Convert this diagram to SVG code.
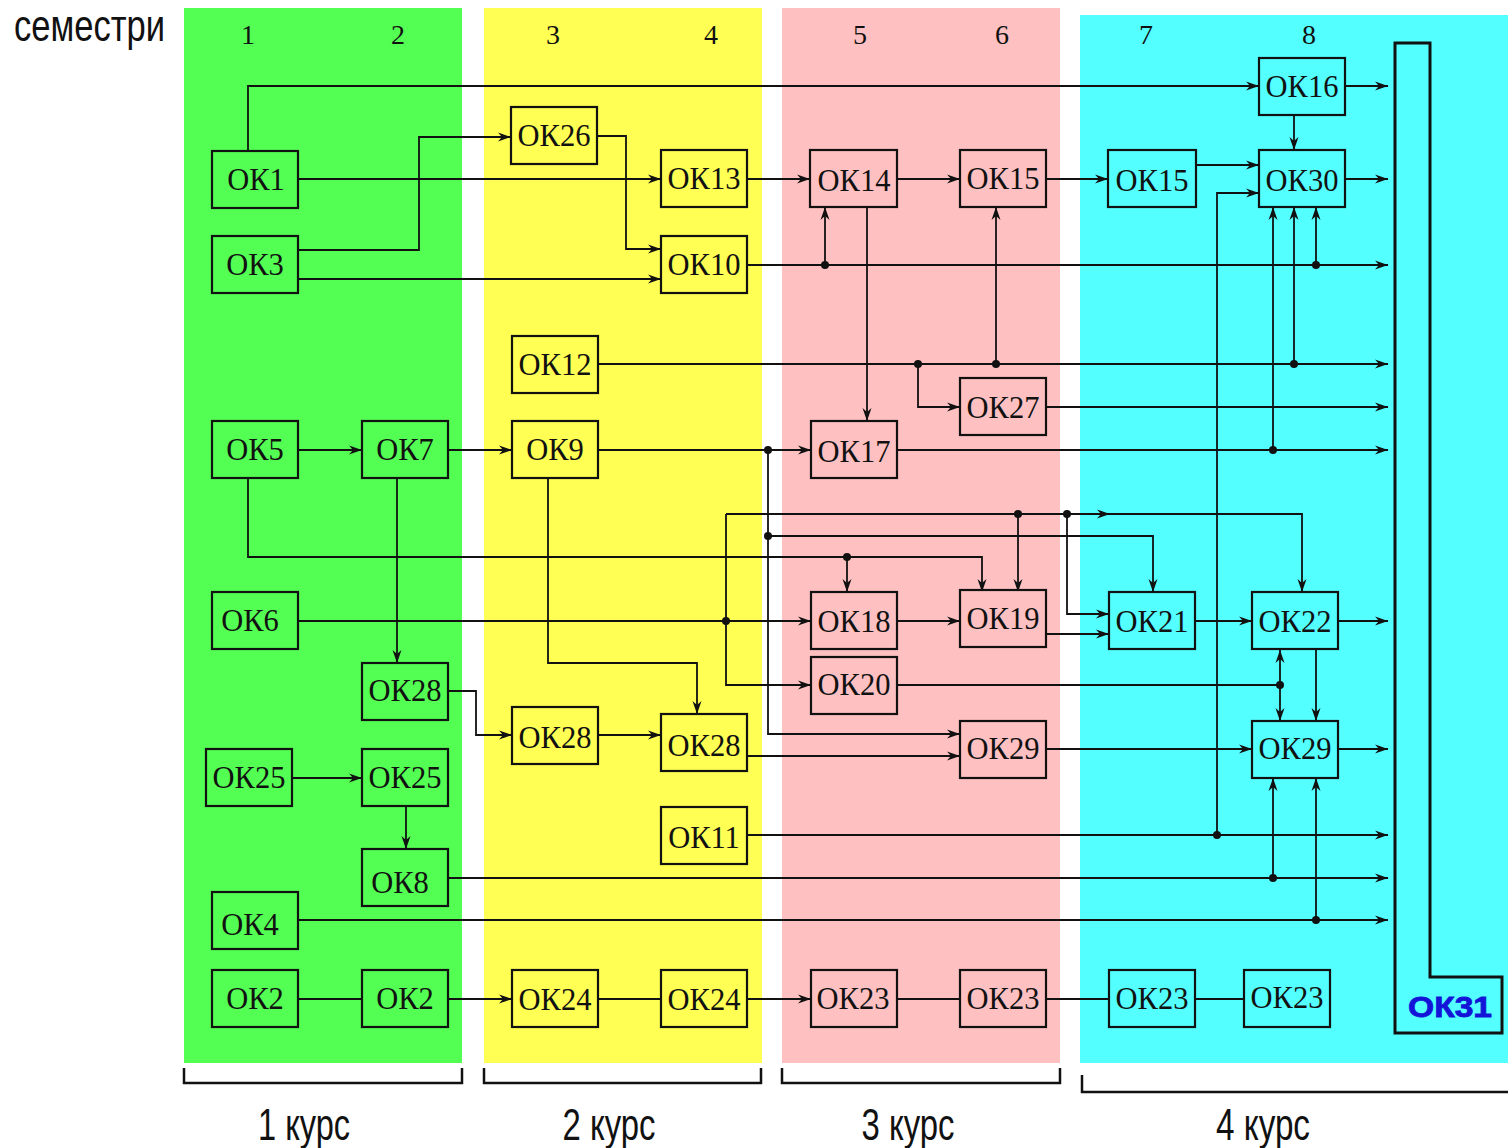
<svg xmlns="http://www.w3.org/2000/svg" width="1508" height="1148" viewBox="0 0 1508 1148">
<style>
.node rect{stroke:#111;stroke-width:2.2}
.node text{font-family:"Liberation Serif","Times New Roman",serif;font-size:30.5px;fill:#111;text-anchor:middle}
.g rect{fill:#54ff54}.y rect{fill:#ffff54}.p rect{fill:#ffc0c2}.c rect{fill:#54ffff}
#connectors path{fill:none;stroke:#111;stroke-width:1.8}
#connectors .a{marker-end:url(#arr)}
#connectors circle{fill:#111}
.sem{font-family:"Liberation Serif","Times New Roman",serif;font-size:28px;fill:#111;text-anchor:middle}
.lbl{font-family:"Liberation Sans",Arial,sans-serif;font-size:44px;fill:#111;text-anchor:middle}
.brk{fill:none;stroke:#111;stroke-width:2.5}
</style>
<defs>
<marker id="arr" markerUnits="userSpaceOnUse" markerWidth="16" markerHeight="12" refX="13" refY="5" orient="auto">
<path d="M0,0.5 L13,5 L0,9.5 L4,5 Z" fill="#111"/>
</marker>
</defs>
<rect width="1508" height="1148" fill="#fff"/>
<g id="bands">
<rect x="184" y="8" width="278" height="1055" fill="#54ff54"/>
<rect x="484" y="8" width="278" height="1055" fill="#ffff54"/>
<rect x="782" y="8" width="278" height="1055" fill="#ffc0c2"/>
<rect x="1080" y="15" width="428" height="1048" fill="#54ffff"/>
</g>
<text x="14" y="41" font-family="Liberation Sans, Arial, sans-serif" font-size="44" fill="#111" textLength="151" lengthAdjust="spacingAndGlyphs">семестри</text>
<g id="semesters">
<text class="sem" x="248" y="44">1</text>
<text class="sem" x="398" y="44">2</text>
<text class="sem" x="553" y="44">3</text>
<text class="sem" x="711" y="44">4</text>
<text class="sem" x="860" y="44">5</text>
<text class="sem" x="1002" y="44">6</text>
<text class="sem" x="1146" y="44">7</text>
<text class="sem" x="1309" y="44">8</text>
</g>
<g id="connectors">
<path class="a" d="M248,151 V86 H1259"/>
<path class="a" d="M298,179 H661"/>
<path class="a" d="M298,250 H419 V137 H511"/>
<path class="a" d="M298,279 H661"/>
<path class="a" d="M597,136 H626 V249 H661"/>
<path class="a" d="M747,179 H810"/>
<path class="a" d="M897,179 H960"/>
<path class="a" d="M1046,179 H1108"/>
<path class="a" d="M1196,165 H1259"/>
<path class="a" d="M1294,115 V150"/>
<path class="a" d="M1345,86 H1388"/>
<path class="a" d="M1345,179 H1388"/>
<path class="a" d="M747,265 H1388"/>
<path class="a" d="M825,265 V207"/>
<path class="a" d="M1316,265 V207"/>
<path class="a" d="M867,207 V421"/>
<path class="a" d="M597,364 H1388"/>
<path class="a" d="M996,364 V207"/>
<path class="a" d="M918,364 V407 H960"/>
<path class="a" d="M1294,364 V207"/>
<path class="a" d="M1046,407 H1388"/>
<path class="a" d="M298,450 H362"/>
<path class="a" d="M448,450 H512"/>
<path class="a" d="M597,450 H811"/>
<path class="a" d="M897,450 H1388"/>
<path class="a" d="M1273,450 V207"/>
<path class="a" d="M747,835 H1388"/>
<path class="a" d="M1217,835 V193 H1259"/>
<path class="a" d="M768,450 V734 H960"/>
<path class="a" d="M768,536 H1153 V592"/>
<path class="a" d="M726,514 V685 H811"/>
<path class="a" d="M726,514 H1302 V592"/>
<path class="a" d="M1090,514 H1110"/>
<path class="a" d="M1018,514 V592"/>
<path class="a" d="M1067,514 V614 H1109"/>
<path class="a" d="M248,478 V557 H982 V592"/>
<path class="a" d="M847,557 V592"/>
<path class="a" d="M298,621 H811"/>
<path class="a" d="M897,621 H960"/>
<path class="a" d="M1046,634 H1109"/>
<path class="a" d="M1195,621 H1252"/>
<path class="a" d="M1338,621 H1388"/>
<path d="M897,685 H1280"/>
<path class="a" d="M1280,685 V650"/>
<path class="a" d="M1280,685 V721"/>
<path class="a" d="M1316,650 V721"/>
<path class="a" d="M397,478 V663"/>
<path class="a" d="M548,478 V663 H697 V714"/>
<path class="a" d="M448,691 H476 V735 H512"/>
<path class="a" d="M597,735 H661"/>
<path class="a" d="M747,756 H960"/>
<path class="a" d="M1046,749 H1252"/>
<path class="a" d="M1338,749 H1388"/>
<path class="a" d="M292,778 H362"/>
<path class="a" d="M406,807 V849"/>
<path class="a" d="M448,878 H1388"/>
<path class="a" d="M1273,878 V778"/>
<path class="a" d="M298,920 H1388"/>
<path class="a" d="M1316,920 V778"/>
<path d="M298,999 H362"/>
<path class="a" d="M448,999 H512"/>
<path d="M597,999 H661"/>
<path class="a" d="M747,999 H811"/>
<path d="M897,999 H960"/>
<path d="M1046,999 H1109"/>
<path d="M1195,999 H1244"/>
<circle cx="825" cy="265" r="4"/>
<circle cx="1316" cy="265" r="4"/>
<circle cx="918" cy="364" r="4"/>
<circle cx="996" cy="364" r="4"/>
<circle cx="1294" cy="364" r="4"/>
<circle cx="768" cy="450" r="4"/>
<circle cx="1273" cy="450" r="4"/>
<circle cx="1018" cy="514" r="4"/>
<circle cx="1067" cy="514" r="4"/>
<circle cx="768" cy="536" r="4"/>
<circle cx="847" cy="557" r="4"/>
<circle cx="726" cy="621" r="4"/>
<circle cx="1280" cy="685" r="4"/>
<circle cx="1217" cy="835" r="4"/>
<circle cx="1273" cy="878" r="4"/>
<circle cx="1316" cy="920" r="4"/>
</g>
<g id="OK1" class="node g"><rect x="212" y="151" width="86" height="57"/><text x="256" y="190">ОК1</text></g>
<g id="OK3" class="node g"><rect x="212" y="236" width="86" height="57"/><text x="255" y="275">ОК3</text></g>
<g id="OK5" class="node g"><rect x="212" y="421" width="86" height="57"/><text x="255" y="460">ОК5</text></g>
<g id="OK7" class="node g"><rect x="362" y="421" width="86" height="57"/><text x="405" y="460">ОК7</text></g>
<g id="OK6" class="node g"><rect x="212" y="592" width="86" height="57"/><text x="250" y="631">ОК6</text></g>
<g id="OK28-1" class="node g"><rect x="362" y="663" width="86" height="57"/><text x="405" y="701">ОК28</text></g>
<g id="OK25-1" class="node g"><rect x="206" y="749" width="86" height="57"/><text x="249" y="788">ОК25</text></g>
<g id="OK25-2" class="node g"><rect x="362" y="749" width="86" height="57"/><text x="405" y="788">ОК25</text></g>
<g id="OK8" class="node g"><rect x="362" y="849" width="86" height="57"/><text x="400" y="893">ОК8</text></g>
<g id="OK4" class="node g"><rect x="212" y="892" width="86" height="57"/><text x="250" y="935">ОК4</text></g>
<g id="OK2-1" class="node g"><rect x="212" y="970" width="86" height="57"/><text x="255" y="1009">ОК2</text></g>
<g id="OK2-2" class="node g"><rect x="362" y="970" width="86" height="57"/><text x="405" y="1009">ОК2</text></g>
<g id="OK26" class="node y"><rect x="511" y="107" width="86" height="57"/><text x="554" y="146">ОК26</text></g>
<g id="OK13" class="node y"><rect x="661" y="150" width="86" height="57"/><text x="704" y="189">ОК13</text></g>
<g id="OK10" class="node y"><rect x="661" y="236" width="86" height="57"/><text x="704" y="275">ОК10</text></g>
<g id="OK12" class="node y"><rect x="512" y="336" width="86" height="57"/><text x="555" y="375">ОК12</text></g>
<g id="OK9" class="node y"><rect x="512" y="421" width="86" height="57"/><text x="555" y="460">ОК9</text></g>
<g id="OK28-2" class="node y"><rect x="512" y="707" width="86" height="57"/><text x="555" y="748">ОК28</text></g>
<g id="OK28-3" class="node y"><rect x="661" y="714" width="86" height="57"/><text x="704" y="756">ОК28</text></g>
<g id="OK11" class="node y"><rect x="661" y="807" width="86" height="57"/><text x="704" y="848">ОК11</text></g>
<g id="OK24-1" class="node y"><rect x="512" y="970" width="86" height="57"/><text x="555" y="1010">ОК24</text></g>
<g id="OK24-2" class="node y"><rect x="661" y="970" width="86" height="57"/><text x="704" y="1010">ОК24</text></g>
<g id="OK14" class="node p"><rect x="810" y="150" width="87" height="57"/><text x="854" y="191">ОК14</text></g>
<g id="OK15-1" class="node p"><rect x="960" y="150" width="86" height="57"/><text x="1003" y="189">ОК15</text></g>
<g id="OK27" class="node p"><rect x="960" y="378" width="86" height="57"/><text x="1003" y="418">ОК27</text></g>
<g id="OK17" class="node p"><rect x="811" y="421" width="86" height="57"/><text x="854" y="462">ОК17</text></g>
<g id="OK18" class="node p"><rect x="811" y="592" width="86" height="57"/><text x="854" y="632">ОК18</text></g>
<g id="OK19" class="node p"><rect x="960" y="590" width="86" height="57"/><text x="1003" y="629">ОК19</text></g>
<g id="OK20" class="node p"><rect x="811" y="657" width="86" height="57"/><text x="854" y="695">ОК20</text></g>
<g id="OK29-1" class="node p"><rect x="960" y="721" width="86" height="57"/><text x="1003" y="759">ОК29</text></g>
<g id="OK23-1" class="node p"><rect x="811" y="970" width="86" height="57"/><text x="853" y="1009">ОК23</text></g>
<g id="OK23-2" class="node p"><rect x="960" y="970" width="86" height="57"/><text x="1003" y="1009">ОК23</text></g>
<g id="OK16" class="node c"><rect x="1259" y="58" width="86" height="57"/><text x="1302" y="97">ОК16</text></g>
<g id="OK15-2" class="node c"><rect x="1108" y="150" width="88" height="57"/><text x="1152" y="191">ОК15</text></g>
<g id="OK30" class="node c"><rect x="1259" y="150" width="86" height="57"/><text x="1302" y="191">ОК30</text></g>
<g id="OK21" class="node c"><rect x="1109" y="592" width="86" height="57"/><text x="1152" y="632">ОК21</text></g>
<g id="OK22" class="node c"><rect x="1252" y="592" width="86" height="57"/><text x="1295" y="632">ОК22</text></g>
<g id="OK29-2" class="node c"><rect x="1252" y="721" width="86" height="57"/><text x="1295" y="759">ОК29</text></g>
<g id="OK23-3" class="node c"><rect x="1109" y="970" width="86" height="57"/><text x="1152" y="1009">ОК23</text></g>
<g id="OK23-4" class="node c"><rect x="1244" y="970" width="86" height="57"/><text x="1287" y="1008">ОК23</text></g>
<g id="OK31">
<path d="M1395,43 H1430 V977 H1502 V1033 H1395 Z" fill="#54ffff" stroke="#111" stroke-width="3"/>
<text x="1450" y="1017" font-family="Liberation Sans, Arial, sans-serif" font-weight="bold" font-size="29" fill="#1414d8" stroke="#1414d8" stroke-width="0.8" text-anchor="middle" textLength="84" lengthAdjust="spacingAndGlyphs">ОК31</text>
</g>
<g id="courses">
<path class="brk" d="M184,1068 V1083 H462 V1068"/>
<path class="brk" d="M484,1068 V1083 H761 V1068"/>
<path class="brk" d="M782,1068 V1083 H1060 V1068"/>
<path class="brk" d="M1082,1075 V1092 H1508"/>
<text class="lbl" x="304" y="1140" textLength="92" lengthAdjust="spacingAndGlyphs">1 курс</text>
<text class="lbl" x="609" y="1140" textLength="93" lengthAdjust="spacingAndGlyphs">2 курс</text>
<text class="lbl" x="908" y="1140" textLength="93" lengthAdjust="spacingAndGlyphs">3 курс</text>
<text class="lbl" x="1263" y="1140" textLength="94" lengthAdjust="spacingAndGlyphs">4 курс</text>
</g>
</svg>
